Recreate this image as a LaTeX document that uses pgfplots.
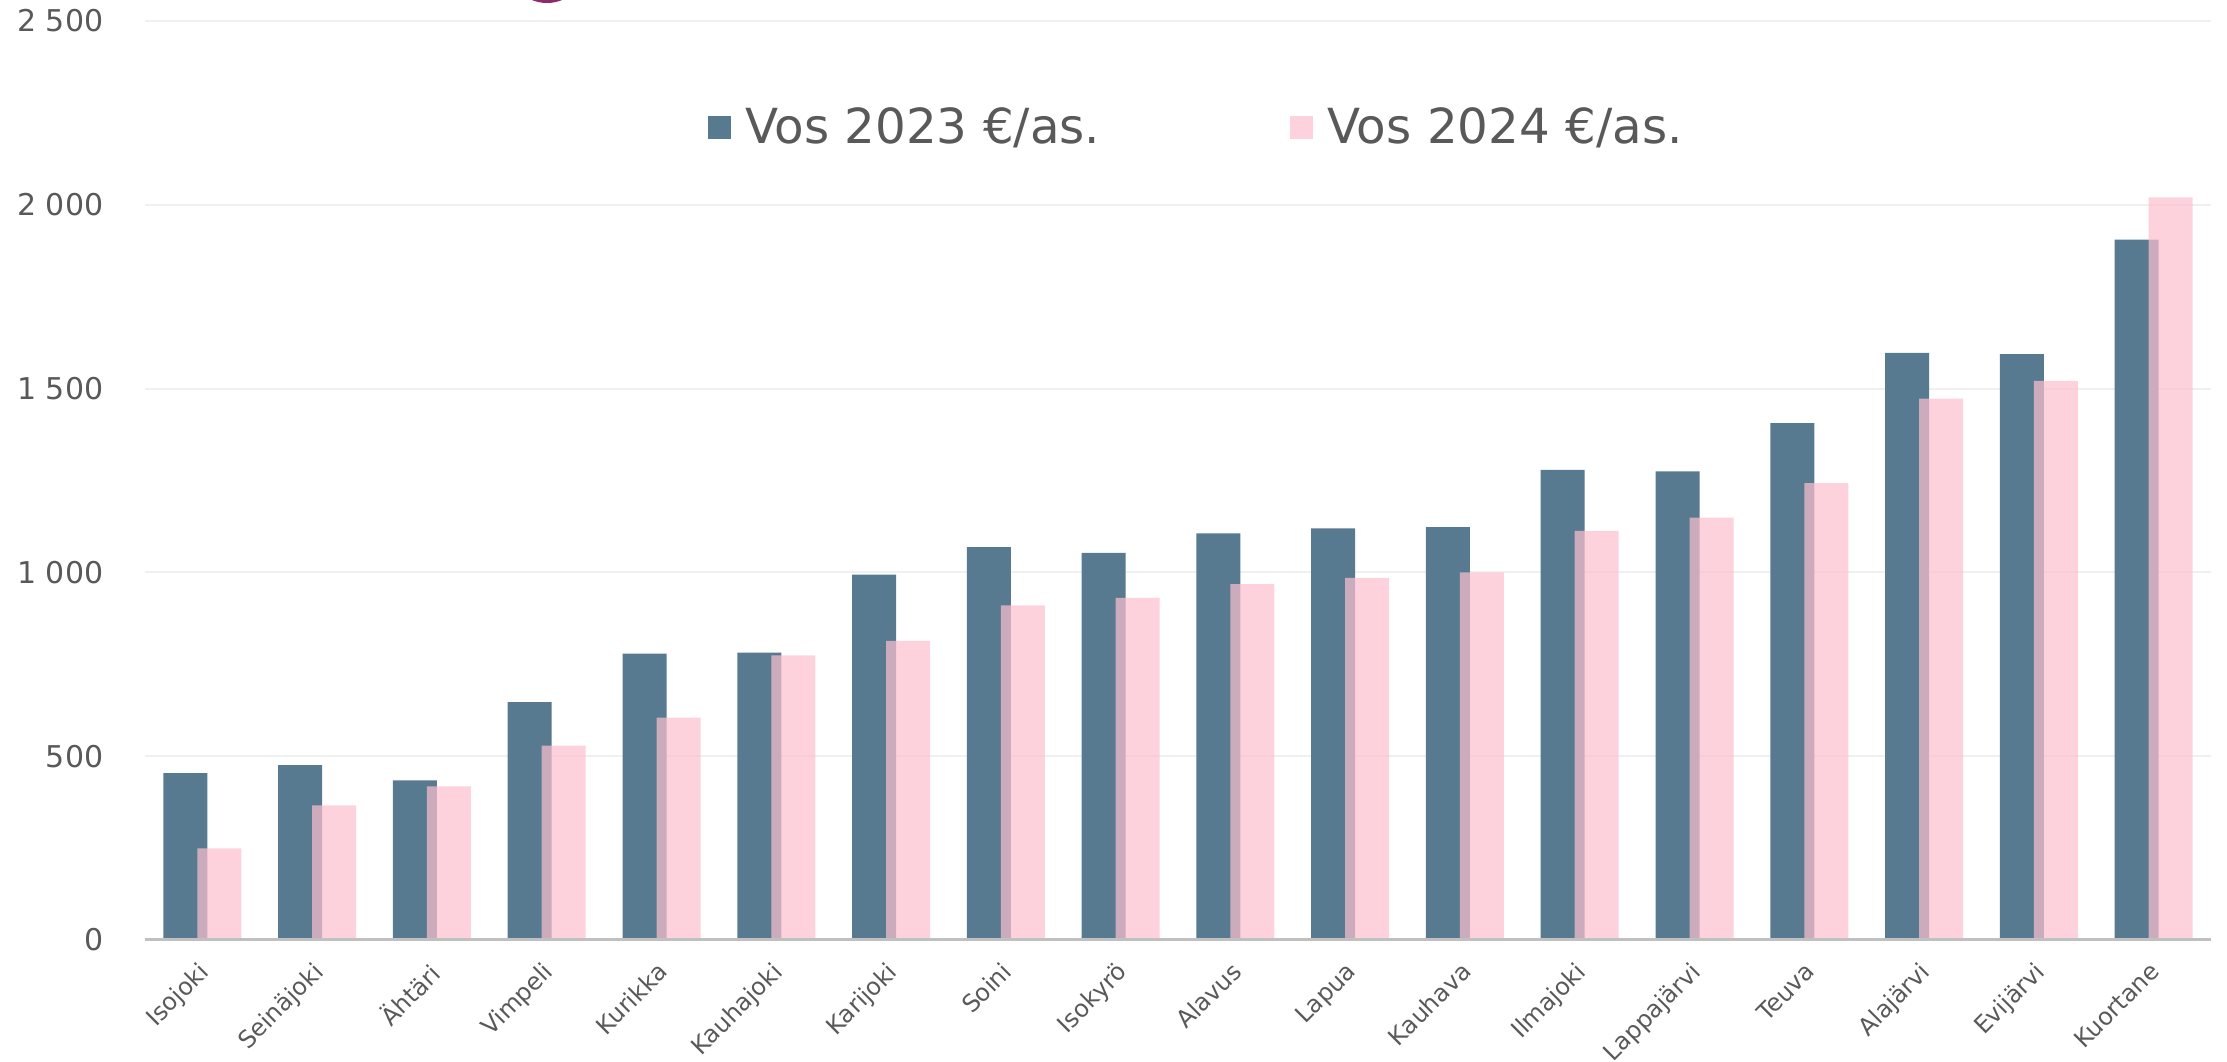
\documentclass[border=0pt]{standalone}
\usepackage{fontspec}
\setmainfont{DejaVu Sans}
\usepackage{pgfplots}
\pgfplotsset{compat=1.18}
\definecolor{blue23}{RGB}{88,122,145}
\definecolor{pink24}{RGB}{252,192,207}
\definecolor{txt}{RGB}{89,89,89}
\definecolor{gridc}{RGB}{240,240,240}
\definecolor{basec}{RGB}{192,192,192}
\definecolor{logo}{RGB}{142,42,106}
\begin{document}
\begin{tikzpicture}
\useasboundingbox (-43.5pt,-36.3pt) rectangle (624.6pt,282pt);
\fill[logo] (120.6pt,293.1pt) circle (12pt);
\begin{axis}[
  scale only axis,
  width=619.8pt, height=275.7pt,
  xmin=-0.5, xmax=17.5, ymin=0, ymax=2500,
  ybar, bar width=13.2pt,
  axis x line*=bottom, axis y line*=left,
  x axis line style={draw=none}, y axis line style={draw=none},
  major tick length=0pt,
  ymajorgrids, major grid style={color=gridc, line width=0.6pt},
  ytick={0,500,1000,1500,2000,2500},
  yticklabels={0,500,1~000,1~500,2~000,2~500},
  yticklabel style={font=\fontsize{9}{10}\selectfont, text=txt, xshift=-9pt},
  xtick={0,...,17},
  xticklabels={Isojoki,Seinäjoki,Ähtäri,Vimpeli,Kurikka,Kauhajoki,Karijoki,Soini,Isokyrö,Alavus,Lapua,Kauhava,Ilmajoki,Lappajärvi,Teuva,Alajärvi,Evijärvi,Kuortane},
  xticklabel style={font=\fontsize{7.2}{8}\selectfont, text=txt, xshift=-1.6pt, yshift=-1.2pt, rotate=45, anchor=north east},
  legend columns=2,
  legend style={at={(0.51,0.8836)}, anchor=center, draw=none, fill=none,
    font=\fontsize{14.5}{16}\selectfont, text=txt,
    /tikz/every even column/.append style={column sep=55pt}},
  legend image code/.code={\fill[#1] (0pt,-3.45pt) rectangle (6.9pt,3.45pt); \path (9.2pt,0pt);},
]
\addplot[fill=blue23, draw=none, bar shift=-5.1pt] coordinates {
(0,454) (1,476) (2,434) (3,647) (4,779) (5,782) (6,994) (7,1069) (8,1053)
(9,1106) (10,1120) (11,1123) (12,1279) (13,1275) (14,1406) (15,1597) (16,1594) (17,1905)};
\addlegendentry{Vos 2023 €/as.}
\addplot[fill=pink24, fill opacity=0.71, draw=none, bar shift=5.1pt] coordinates {
(0,249) (1,366) (2,418) (3,529) (4,605) (5,774) (6,814) (7,910) (8,931)
(9,968) (10,985) (11,1000) (12,1113) (13,1149) (14,1243) (15,1473) (16,1521) (17,2020)};
\addlegendentry{Vos 2024 €/as.}
\draw[basec, line width=1pt] (axis cs:-0.5,0) -- (axis cs:17.5,0);
\end{axis}
\end{tikzpicture}
\end{document}
